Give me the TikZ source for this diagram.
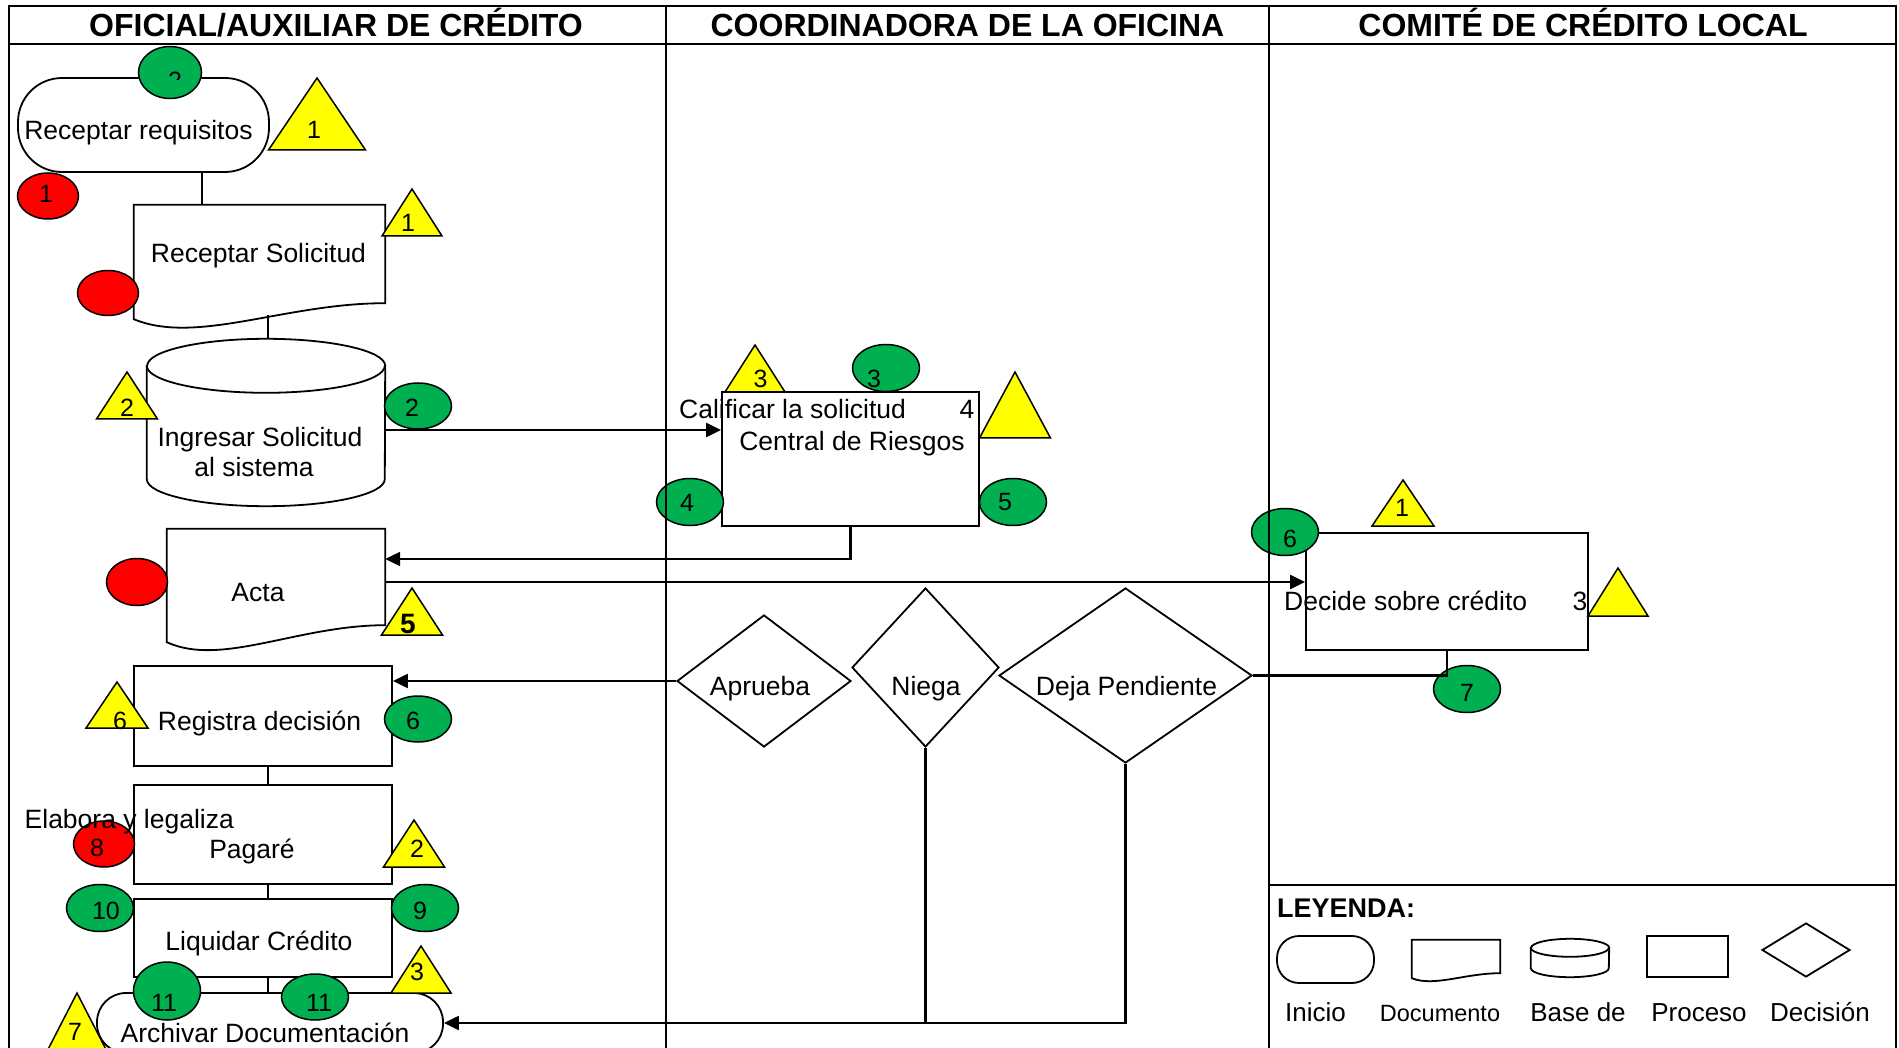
\documentclass[tikz,border=0pt]{standalone}
\usepackage{fontspec}
\setmainfont{Liberation Sans}
\usetikzlibrary{shapes.geometric,arrows.meta,calc}
\definecolor{gfill}{RGB}{0,176,80}
\definecolor{rfill}{RGB}{255,0,0}
\definecolor{yfill}{RGB}{255,255,0}
\newcommand{\mkcirc}[8]{%
  \node[blob, fill=#2, minimum width=#5pt, minimum height=#6pt] (#1) at (#3,#4) {};
  \node[num] (#1n) at #8 {#7};}
\newcommand{\mktri}[7]{%
  \filldraw[tri] (#2,#3) -- (#2-#4,#5) -- (#2+#4,#5) -- cycle;
  \node[num] (#1) at #7 {#6};}
\newcommand{\mkdoc}[4]{%
  \filldraw[shp] (#1.south east) -- (#1.north east) -- (#1.north west) -- ($(#1.south west)+(0,#2)$)
   .. controls ($(#1.south west)!0.25!(#1.south east)+(0,#3)$) and ($(#1.south west)!0.6!(#1.south east)+(0,#4)$) .. (#1.south east) -- cycle;}
\newcommand{\mkcyl}[3]{%
  \filldraw[shp] ($(#1.north west)+(0,#3)$) -- ($(#1.south west)+(0,-#3)$) arc[start angle=180,end angle=360,x radius=#2pt,y radius=#3pt] -- ($(#1.north east)+(0,#3)$) arc[start angle=0,end angle=180,x radius=#2pt,y radius=#3pt] -- cycle;
  \draw[shpline] ($(#1.north west)+(0,#3)$) arc[start angle=180,end angle=360,x radius=#2pt,y radius=#3pt];}
\tikzset{
  shp/.style={draw=black, line width=1.8pt, fill=white},
  shpline/.style={draw=black, line width=1.8pt},
  box/.style={shp, rectangle, inner sep=0pt},
  bodyrect/.style={rectangle, inner sep=0pt, draw=none},
  dia/.style={shp, diamond, inner sep=0pt},
  blob/.style={ellipse, draw=black, line width=1.5pt, inner sep=0pt},
  tri/.style={draw=black, line width=1.5pt, fill=yfill, line join=miter},
  num/.style={inner sep=0pt, font=\fontsize{25}{30}\selectfont},
  txt/.style={inner sep=0pt, anchor=base, font=\fontsize{26.5}{32}\selectfont},
  ttl/.style={inner sep=0pt, anchor=base, font=\fontsize{32}{38}\selectfont\bfseries},
  leg/.style={inner sep=0pt, anchor=base, font=\fontsize{26}{31}\selectfont},
  conn/.style={draw=black, line width=2.2pt},
  arr/.style={conn, -{Triangle[length=15pt,width=14pt]}},
  lanes/.style={draw=black, line width=2.2pt}
}
\begin{document}
\begin{tikzpicture}[x=1pt,y=-1pt]
\clip (0,0) rectangle (1899,1048);
\fill[white] (0,0) rectangle (1899,1048);

% ---------- shapes ----------
\node[box, rounded corners=44pt, minimum width=251pt, minimum height=94pt] (rr) at (143.5,125) {};
\node[bodyrect, minimum width=251pt, minimum height=98pt] (rs) at (259.5,254) {};
\mkdoc{rs}{16}{42}{0}
\node[bodyrect, minimum width=238pt, minimum height=167pt] (db) at (266,422.5) {};
\mkcyl{db}{119}{27}
\node[bodyrect, minimum width=218pt, minimum height=96pt] (acta) at (276,577) {};
\mkdoc{acta}{17}{42}{0}
\node[box, minimum width=258pt, minimum height=100pt] (reg) at (263,716) {};
\node[box, minimum width=258pt, minimum height=99pt] (pag) at (263,834.5) {};
\node[box, minimum width=258pt, minimum height=78pt] (liq) at (263,938) {};
\node[box, rounded corners=29pt, minimum width=346pt, minimum height=60pt] (arch) at (270,1023) {};
\node[box, minimum width=257pt, minimum height=134pt] (cal) at (850.5,459) {};
\node[box, minimum width=282pt, minimum height=117pt] (dec) at (1447,591.5) {};
\node[dia, minimum width=174pt, minimum height=132pt] (apr) at (764,681) {};
\node[dia, minimum width=147pt, minimum height=159pt] (nie) at (925.5,667.5) {};
\node[dia, minimum width=253pt, minimum height=175pt] (deja) at (1125.5,675.5) {};

% legend shapes
\node[box, rounded corners=22pt, minimum width=97pt, minimum height=47pt] (lgIni) at (1325.5,959.5) {};
\node[bodyrect, minimum width=88pt, minimum height=33pt] (lgDoc) at (1456,956.5) {};
\mkdoc{lgDoc}{5}{14}{0}
\node[bodyrect, minimum width=78pt, minimum height=38pt] (lgBase) at (1570,958) {};
\mkcyl{lgBase}{39}{9}
\node[box, minimum width=81pt, minimum height=41pt] (lgProc) at (1687.5,956.5) {};
\node[dia, minimum width=88pt, minimum height=54pt] (lgDec) at (1806,950) {};

% ---------- circles ----------
\node[blob, fill=gfill, minimum width=63pt, minimum height=52pt] (g2t) at (170,72.5) {};
\begin{scope}
  \clip (130,40) rectangle (210,79.5);
  \node[num] (g2tn) at (175,81) {2};
\end{scope}
\mkcirc{g2}{gfill}{418}{406}{67}{46}{2}{(412,408)}
\mkcirc{g3}{gfill}{886}{368}{67}{47}{3}{(874,379)}
\mkcirc{g4}{gfill}{690}{502}{67}{47}{4}{(687,502.5)}
\mkcirc{g5}{gfill}{1013}{502}{67}{47}{5}{(1005,502.5)}
\mkcirc{g6d}{gfill}{1285}{532}{67}{47}{6}{(1290,539)}
\mkcirc{g7}{gfill}{1467}{689}{67}{47}{7}{(1467,692.5)}
\mkcirc{g6r}{gfill}{418}{719}{67}{46}{6}{(413,721)}
\mkcirc{g10}{gfill}{100}{908}{67}{47}{10}{(106,911)}
\mkcirc{g9}{gfill}{425}{908}{67}{47}{9}{(420,911)}
\mkcirc{g11a}{gfill}{167}{991}{67}{58}{11}{(164,1002.5)}
\mkcirc{g11b}{gfill}{315}{997}{67}{46}{11}{(319,1002.5)}
\mkcirc{r1}{rfill}{48}{196}{61}{46}{1}{(46,193.5)}
\node[blob, fill=rfill, minimum width=61pt, minimum height=45pt] (rsC) at (108,293) {};
\node[blob, fill=rfill, minimum width=61pt, minimum height=47pt] (actaC) at (137,582) {};
\mkcirc{r8}{rfill}{104}{844}{61}{46}{8}{(97,848)}

% ---------- triangles ----------
\mktri{t1a}{317}{78}{48.5}{150}{1}{(314,130)}
\mktri{t1b}{412}{189}{30}{236}{1}{(408,223)}
\mktri{t2a}{127}{372}{30.5}{419}{2}{(127,408)}
\mktri{t5}{412}{588}{30.5}{635}{\bfseries\fontsize{28}{30}\selectfont 5}{(408,624)}
\mktri{t6}{117}{682}{31}{728}{6}{(120,720.5)}
\mktri{t2b}{414}{820}{30.5}{867}{2}{(417,849)}
\mktri{t3a}{421}{946}{30}{993}{3}{(417,972)}
\mktri{t7}{77}{993}{37}{1065}{7}{(75,1032)}
\mktri{t3c}{755}{345}{30}{392}{3}{(760.5,379)}
\mktri{t1d}{1403}{480}{31}{526}{1}{(1402,508)}
\coordinate (tbig) at (1015,372);
\filldraw[tri] (tbig) -- (979.5,438) -- (1050.5,438) -- cycle;
\coordinate (tbigd) at (1618,568);
\filldraw[tri] (tbigd) -- (1588,616) -- (1648,616) -- cycle;

% ---------- texts ----------
\node[txt] (rrT) at (138.5,140) {Receptar requisitos};
\node[txt] (rsT) at (258.5,263) {Receptar Solicitud};
\node[txt] (dbT1) at (260,447) {Ingresar Solicitud};
\node[txt] (dbT2) at (254,477) {al sistema};
\node[txt] (actaT) at (258,601) {Acta};
\node[txt] (regT) at (259.6,730) {Registra decisión};
\node[txt, anchor=base west] (pagT1) at (24.5,828) {Elabora y legaliza};
\node[txt] (pagT2) at (252,858) {Pagaré};
\node[txt] (liqT) at (259,950) {Liquidar Crédito};
\node[txt] (archT) at (265,1042) {Archivar Documentación};
\node[txt, anchor=base west] (calT1) at (679,419) {Calificar la solicitud};
\node[txt] (calT4) at (967,419) {4};
\node[txt] (calT2) at (852,450) {Central de Riesgos};
\node[txt] (aprT) at (760,695) {Aprueba};
\node[txt] (nieT) at (926,695) {Niega};
\node[txt] (dejaT) at (1126.5,695) {Deja Pendiente};
\node[txt, anchor=base west] (decT) at (1284,610) {Decide sobre crédito};
\node[txt] (decT3) at (1580,610) {3};
\node[ttl] (h1) at (336,37) {OFICIAL/AUXILIAR DE CRÉDITO};
\node[ttl] (h2) at (967.5,37) {COORDINADORA DE LA OFICINA};
\node[ttl] (h3) at (1583,37) {COMITÉ DE CRÉDITO LOCAL};
\node[leg, anchor=base west, font=\fontsize{27}{32}\selectfont\bfseries] (ley) at (1277,917) {LEYENDA:};
\node[leg] (lgIniT) at (1315.5,1021) {Inicio};
\node[leg, font=\fontsize{23.5}{28}\selectfont] (lgDocT) at (1440,1021) {Documento};
\node[leg] (lgBaseT) at (1578,1021) {Base de};
\node[leg] (lgProcT) at (1699,1021) {Proceso};
\node[leg] (lgDecT) at (1820,1021) {Decisión};

% ---------- connectors ----------
\coordinate (xA) at (202,0);
\coordinate (xB) at (268,0);
\draw[conn] (rr.south -| xA) -- (rs.north -| xA);
\coordinate (rsBot) at ($(rs.south -| xB)+(0,12)$);
\draw[conn] (rsBot) -- (db.north -| xB);
\coordinate (dbOut) at ($(db.east)+(0,7.5)$);
\draw[arr] (dbOut) -- (dbOut -| cal.west);
\coordinate (actaIn) at ($(acta.east)+(0,-18)$);
\draw[arr] (cal.south) |- (actaIn);
\coordinate (actaOut) at ($(acta.east)+(0,5)$);
\draw[arr] (actaOut) -- (actaOut -| dec.west);
\draw[arr] (apr.west) -- (apr.west -| reg.east);
\draw[conn] (dec.south) |- (deja.east);
\draw[arr] (deja.south) |- (arch.east);
\draw[conn] (nie.south) -- (nie.south |- arch.east);
\draw[conn] (reg.south -| xB) -- (pag.north -| xB);
\draw[conn] (pag.south -| xB) -- (liq.north -| xB);
\draw[conn] (liq.south -| xB) -- (arch.north -| xB);

% ---------- frame ----------
\draw[lanes] (9,1070) -- (9,6) -- (1896,6) -- (1896,1070);
\draw[lanes] (9,44) -- (1896,44);
\draw[lanes] (666,6) -- (666,1070);
\draw[lanes] (1269,6) -- (1269,1070);
\draw[lanes] (1269,885) -- (1896,885);
\end{tikzpicture}
\end{document}
